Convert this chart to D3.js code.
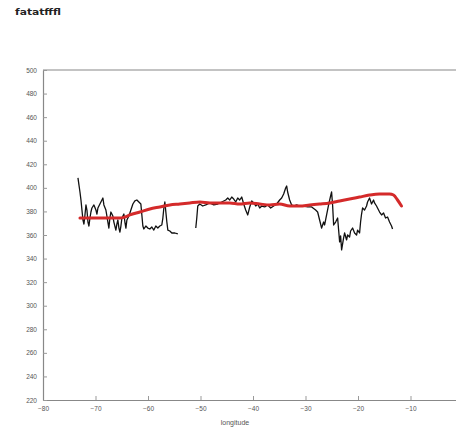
<!DOCTYPE html>
<html>
<head>
<meta charset="utf-8">
<script src="https://cdn.jsdelivr.net/npm/d3@7"></script>
<style>
  html, body { margin: 0; padding: 0; background: #fff; }
  svg { display: block; }
</style>
</head>
<body>
<svg id="chart" width="456" height="429"></svg>
<script>
// Along-track profile: raw measurements (black) and smoothed fit (red) vs. longitude
const titleText = "fatatfffl";
const xLabelText = "longitude";
const xTicks = [-80, -70, -60, -50, -40, -30, -20, -10];
const yTicks = [220, 240, 260, 280, 300, 320, 340, 360, 380, 400, 420, 440, 460, 480, 500];

// raw series; null marks a gap in the record
const rawLon = [
  -73.34,-73.15,-72.96,-72.77,-72.58,-72.39,-72.20,-72.01,-71.82,-71.63,-71.44,-71.25,-71.06,-70.87,-70.68,-70.30,-69.92,-69.73,-69.54,-69.16,
  -68.78,-68.59,-68.40,-68.02,-67.64,-67.45,-67.26,-67.07,-66.69,-66.50,-66.12,-65.93,-65.74,-65.54,-65.35,-65.16,-64.97,-64.59,-64.40,-64.21,
  -64.02,-63.64,-63.26,-62.88,-62.50,-62.12,-61.74,-61.36,-61.17,-60.98,-60.79,-60.41,-60.03,-59.65,-59.27,-58.89,-58.51,-58.13,-57.75,-57.37,
  -57.17,-56.98,-56.79,-56.60,-56.41,-56.22,-55.84,-55.46,-54.89,-54.32,
  -52.60,
  -50.90,-50.71,-50.52,-50.14,-49.57,-49.00,-48.23,-47.47,-46.71,-45.95,-45.19,-44.81,-44.43,-44.05,-43.67,-43.29,-42.91,-42.53,-42.15,-41.77,
  -41.39,-41.00,-40.62,-40.24,-39.86,-39.48,-39.10,-38.72,-38.34,-37.77,-37.20,-36.63,-36.06,-35.49,-34.92,-34.54,-34.16,-33.78,-33.59,-33.40,
  -33.02,-32.64,-32.26,-31.68,-31.11,-30.35,-29.59,-28.83,-28.07,-27.69,
  -27.31,-26.93,-26.55,-26.36,-25.98,-25.60,-25.22,-25.03,-24.84,-24.64,-24.26,-23.88,-23.69,-23.50,-23.31,-23.12,-22.93,-22.74,-22.55,-22.17,
  -21.98,-21.60,-21.41,-21.03,-20.65,-20.27,-20.08,-19.70,-19.51,-19.32,-19.13,-18.75,-18.37,-18.18,-17.80,-17.42,-17.04,-16.85,-16.47,-16.28,
  -15.89,-15.51,-15.13,-14.75,-14.37,-13.99,-13.61,-13.42
];
const rawVal = [
  408.4,402.4,396.5,389.7,381.2,372.7,369.3,377.0,385.5,381.2,371.0,367.6,374.4,379.5,382.9,385.5,381.2,377.8,382.9,386.3,
  389.7,391.4,385.5,381.2,371.0,365.9,374.4,379.5,376.1,371.0,364.2,369.3,372.7,365.9,362.5,367.6,374.4,377.8,371.0,365.9,
  372.7,376.1,381.2,386.3,388.9,389.7,388.0,386.3,377.0,367.6,365.1,367.6,365.9,365.1,366.8,364.2,367.6,365.9,367.6,368.5,
  374.4,382.9,388.0,379.5,371.0,364.2,363.4,361.7,361.7,360.9,
  null,
  365.9,374.4,384.6,386.3,384.6,385.5,387.2,385.5,386.3,388.0,389.7,391.4,389.7,392.2,390.5,388.0,391.4,389.7,392.2,386.3,
  381.2,377.0,383.8,388.9,387.2,384.6,386.3,382.9,384.6,383.8,385.5,382.9,384.6,386.3,389.7,391.4,394.8,399.9,401.6,396.5,
  389.7,385.5,384.6,385.5,384.6,384.6,383.8,383.8,381.2,379.5,
  372.7,365.9,371.0,368.5,377.0,385.5,393.1,396.5,385.5,368.5,371.0,374.4,364.2,354.1,359.2,347.3,352.4,357.5,361.7,355.8,
  360.0,358.3,363.4,365.9,361.7,360.0,364.2,361.7,371.0,377.8,382.9,381.2,384.6,388.0,391.4,386.3,389.7,387.2,384.6,382.9,
  379.5,377.0,378.7,374.4,375.3,371.0,367.6,365.1
];

// smoothed series
const fitLon = [
  -72.96,-71.06,-69.16,-67.26,-65.35,-64.40,-63.45,-61.55,-59.65,-57.75,-55.84,-53.94,-52.04,-50.14,-48.23,-46.33,-44.43,-42.53,
  -40.62,-38.72,-36.82,-34.92,-33.02,-31.11,-29.21,-27.31,-25.41,-23.50,-21.60,-19.70,-17.80,-15.89,-13.99,-13.23,-12.47,-11.71
];
const fitVal = [
  374.4,374.4,374.4,374.4,374.4,375.3,377.0,379.5,382.1,383.8,385.5,386.3,387.2,388.0,387.2,387.2,387.2,386.3,
  387.2,386.3,385.5,386.3,384.6,384.6,385.5,386.3,387.2,388.9,390.5,392.2,393.9,394.8,394.8,393.9,389.7,384.6
];

const svg = d3.select("#chart");
const margin = { left: 43, top: 70, right: 463, bottom: 400 };

const x = d3.scaleLinear().domain([-80, 0]).range([margin.left, margin.right]);
const y = d3.scaleLinear().domain([220, 500]).range([margin.bottom, margin.top]);

// title
svg.append("text")
  .attr("x", 15).attr("y", 15)
  .attr("font-family", "DejaVu Sans, sans-serif")
  .attr("font-size", 9.5).attr("font-weight", "bold")
  .attr("fill", "#222")
  .attr("textLength", 46)
  .attr("lengthAdjust", "spacingAndGlyphs")
  .text(titleText);

// frame top edge
svg.append("line")
  .attr("x1", margin.left).attr("x2", margin.right)
  .attr("y1", margin.top).attr("y2", margin.top)
  .attr("stroke", "#888").attr("stroke-width", 1.2);

// axes with inward ticks
const axisFont = "Liberation Sans, Arial, sans-serif";
const gx = svg.append("g")
  .attr("transform", `translate(0,${margin.bottom})`)
  .call(d3.axisBottom(x).tickValues(xTicks).tickSizeInner(-4).tickSizeOuter(0).tickPadding(6));
const gy = svg.append("g")
  .attr("transform", `translate(${margin.left},0)`)
  .call(d3.axisLeft(y).tickValues(yTicks).tickSizeInner(-4).tickSizeOuter(0).tickPadding(6));

[gx, gy].forEach(g => {
  g.select(".domain").attr("stroke", "#888").attr("stroke-width", 1.2);
  g.selectAll(".tick line").attr("stroke", "#999");
  g.selectAll(".tick text")
    .attr("font-family", axisFont)
    .attr("font-size", 6.5)
    .attr("fill", "#555");
});

// x axis label
svg.append("text")
  .attr("x", 235).attr("y", 425)
  .attr("text-anchor", "middle")
  .attr("font-family", axisFont)
  .attr("font-size", 7)
  .attr("fill", "#555")
  .text(xLabelText);

// raw measurements
const rawPts = rawLon.map((d, i) => [d, rawVal[i]]);
svg.append("path")
  .datum(rawPts)
  .attr("fill", "none")
  .attr("stroke", "#111")
  .attr("stroke-width", 1.3)
  .attr("stroke-linejoin", "round")
  .attr("d", d3.line().defined(d => d[1] !== null).x(d => x(d[0])).y(d => y(d[1])));

// smoothed fit
const fitPts = fitLon.map((d, i) => [d, fitVal[i]]);
svg.append("path")
  .datum(fitPts)
  .attr("fill", "none")
  .attr("stroke", "#d42a2a")
  .attr("stroke-width", 3)
  .attr("stroke-linejoin", "round")
  .attr("stroke-linecap", "round")
  .attr("d", d3.line().curve(d3.curveMonotoneX).x(d => x(d[0])).y(d => y(d[1])));
</script>
</body>
</html>
